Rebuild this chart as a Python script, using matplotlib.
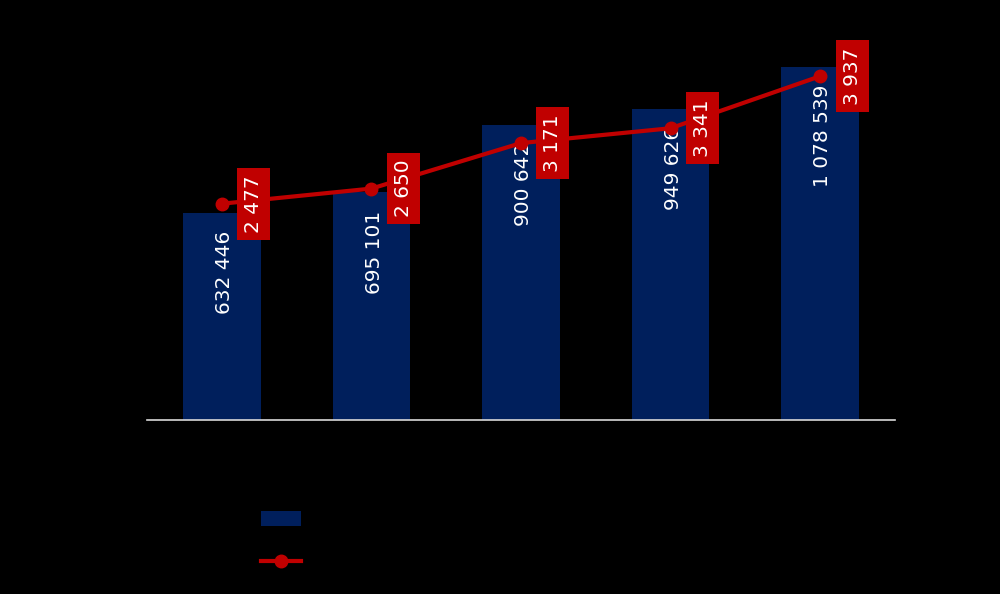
import numpy as np
from matplotlib import pyplot as plt
from matplotlib.patches import Patch
from matplotlib.lines import Line2D

# data
categories = ['', '', '', '', '']
bar_values = [632446, 695101, 900642, 949626, 1078539]
line_values = [2477, 2650, 3171, 3341, 3937]

navy = '#001F5C'
red = '#C00000'


def fmt(v):
    return '{:,}'.format(v).replace(',', ' ')


fig = plt.figure(figsize=(10, 5.94), dpi=100, facecolor='black')
ax = fig.add_axes([0.147, 0.2929, 0.748, 0.6616])
ax.set_facecolor('black')
x = np.arange(len(bar_values))

ax.bar(x, bar_values, width=0.52, color=navy, zorder=2)
ax.set_xlim(-0.5, len(x) - 0.5)
ax.set_ylim(0, 1200000)
ax.set_xticks(x)
ax.set_xticklabels(categories)
ax.set_yticks([])
ax.tick_params(axis='x', length=0)
for s in ['top', 'left', 'right']:
    ax.spines[s].set_visible(False)
ax.spines['bottom'].set_color('#d9d9d9')
ax.spines['bottom'].set_linewidth(1.2)

for xi, v in zip(x, bar_values):
    ax.annotate(fmt(v), (xi, v), xytext=(2, -13), textcoords='offset points',
                rotation=90, ha='center', va='top', color='white', fontsize=14.5,
                zorder=3)

ax2 = ax.twinx()
ax2.set_ylim(0, 4500)
ax2.axis('off')
ax2.plot(x, line_values, color=red, linewidth=3, marker='o', markersize=9, zorder=4)
for xi, v in zip(x, line_values):
    ax2.annotate(fmt(v), (xi, v), xytext=(23, 0), textcoords='offset points',
                 rotation=90, ha='center', va='center', color='white', fontsize=14.5,
                 bbox=dict(boxstyle='square,pad=0.35', fc=red, ec='none'), zorder=5)

handles = [Patch(facecolor=navy, edgecolor='none'),
           Line2D([0], [0], color=red, linewidth=3, marker='o', markersize=9)]
fig.legend(handles, ['', ''], loc='upper left', bbox_to_anchor=(0.243, 0.17),
           frameon=False, fontsize=14, handlelength=2.1, handleheight=0.8,
           labelspacing=1.2)

plt.savefig('out.png', facecolor='black')
